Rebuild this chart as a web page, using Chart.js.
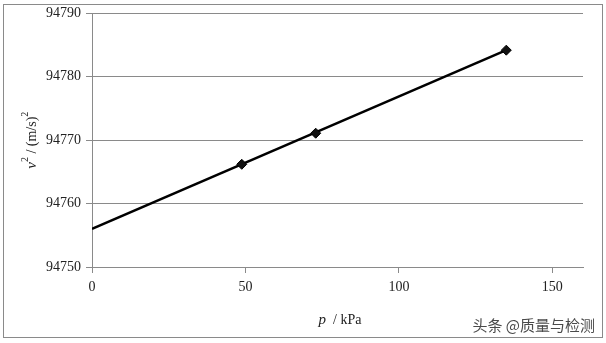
<!DOCTYPE html>
<html>
<head>
<meta charset="utf-8">
<script src="https://cdn.jsdelivr.net/npm/chart.js@4/dist/chart.umd.min.js"></script>
<style>
  html, body { margin: 0; padding: 0; background: #fff; }
  #wrap { width: 606px; height: 343px; position: relative; }
</style>
</head>
<body>
<div id="wrap"><canvas id="c" width="606" height="343"></canvas></div>
<script>
// 测量点 p (kPa) 与 v^2 ((m/s)^2)
var pValues = [48.8, 72.9, 135];
var v2Values = [94766.2, 94771.1, 94784.2];

// 拟合直线两端
var fitP = [0, 135];
var fitV2 = [94756.0, 94784.2];

var xTicks = [0, 50, 100, 150];
var yTicks = [94750, 94760, 94770, 94780, 94790];

var serif = '"Liberation Serif", "Times New Roman", serif';

function toPoints(xs, ys) {
    var out = [];
    for (var i = 0; i < xs.length; i++) out.push({x: xs[i], y: ys[i]});
    return out;
}

// 外框、坐标轴标题和水印
var decor = {
    id: 'decor',
    beforeDraw: function (chart) {
        var ctx = chart.ctx;
        ctx.save();
        ctx.fillStyle = '#fff';
        ctx.fillRect(0, 0, chart.width, chart.height);
        ctx.strokeStyle = '#8a8a8a';
        ctx.lineWidth = 1;
        ctx.strokeRect(3.5, 4.5, 599, 333);
        ctx.restore();
    },
    afterDraw: function (chart) {
        var ctx = chart.ctx;
        var a = chart.chartArea;
        ctx.save();
        ctx.fillStyle = '#222';
        ctx.textBaseline = 'alphabetic';

        // x 轴标题: p / kPa
        var y0 = 324;
        ctx.font = 'italic 15px ' + serif;
        var w1 = ctx.measureText('p').width;
        ctx.font = '14px ' + serif;
        var w2 = ctx.measureText('  / kPa').width;
        var sx = 340 - (w1 + w2) / 2;
        ctx.font = 'italic 15px ' + serif;
        ctx.fillText('p', sx, y0);
        ctx.font = '14px ' + serif;
        ctx.fillText('  / kPa', sx + w1, y0);

        // y 轴标题: v^2 / (m/s)^2
        ctx.translate(36, (a.top + a.bottom) / 2);
        ctx.rotate(-Math.PI / 2);
        var parts = [
            {t: 'v', f: 'italic 15px ' + serif, dy: 0},
            {t: '2', f: '10px ' + serif, dy: -8},
            {t: ' / (m/s)', f: '14px ' + serif, dy: 0},
            {t: '2', f: '10px ' + serif, dy: -8}
        ];
        var total = 0;
        parts.forEach(function (p) { ctx.font = p.f; total += ctx.measureText(p.t).width; });
        var cx = -total / 2;
        parts.forEach(function (p) {
            ctx.font = p.f;
            ctx.fillText(p.t, cx, p.dy);
            cx += ctx.measureText(p.t).width;
        });
        ctx.restore();

        // 水印
        ctx.save();
        ctx.font = '15px "Noto Sans CJK SC", sans-serif';
        ctx.textAlign = 'right';
        ctx.textBaseline = 'middle';
        ctx.lineWidth = 3;
        ctx.strokeStyle = 'rgba(255,255,255,0.9)';
        ctx.strokeText('头条 @质量与检测', 595, 325);
        ctx.fillStyle = '#4a4a4a';
        ctx.fillText('头条 @质量与检测', 595, 325);
        ctx.restore();
    }
};

var ctx = document.getElementById('c').getContext('2d');
var chart = new Chart(ctx, {
    type: 'scatter',
    data: {
        datasets: [{
            type: 'line',
            label: 'fit',
            data: toPoints(fitP, fitV2),
            borderColor: '#000',
            borderWidth: 2.5,
            pointRadius: 0,
            fill: false,
            order: 2
        }, {
            label: 'data',
            data: toPoints(pValues, v2Values),
            pointStyle: 'rectRot',
            pointRadius: 5,
            backgroundColor: '#111',
            borderColor: '#000',
            borderWidth: 1,
            order: 1
        }]
    },
    options: {
        responsive: false,
        animation: false,
        devicePixelRatio: 1,
        layout: { padding: { left: 4, top: 13, right: 23, bottom: 0 } },
        plugins: {
            legend: { display: false },
            tooltip: { enabled: false }
        },
        scales: {
            x: {
                type: 'linear',
                min: 0,
                max: 160,
                afterBuildTicks: function (s) { s.ticks = xTicks.map(function (v) { return {value: v}; }); },
                afterFit: function (s) { s.height = 76; },
                grid: { drawOnChartArea: false, drawTicks: true, tickLength: 6, color: '#8a8a8a' },
                border: { display: true, color: '#8a8a8a' },
                ticks: { color: '#222', padding: 6, autoSkip: false, font: { family: serif, size: 14 } }
            },
            y: {
                type: 'linear',
                min: 94750,
                max: 94790,
                afterBuildTicks: function (s) { s.ticks = yTicks.map(function (v) { return {value: v}; }); },
                afterFit: function (s) { s.width = 88; },
                grid: { drawTicks: true, tickLength: 6, color: '#8a8a8a' },
                border: { display: true, color: '#8a8a8a' },
                ticks: {
                    color: '#222',
                    padding: 5,
                    autoSkip: false,
                    font: { family: serif, size: 14 },
                    callback: function (v) { return String(v); }
                }
            }
        }
    },
    plugins: [decor]
});
</script>
</body>
</html>
